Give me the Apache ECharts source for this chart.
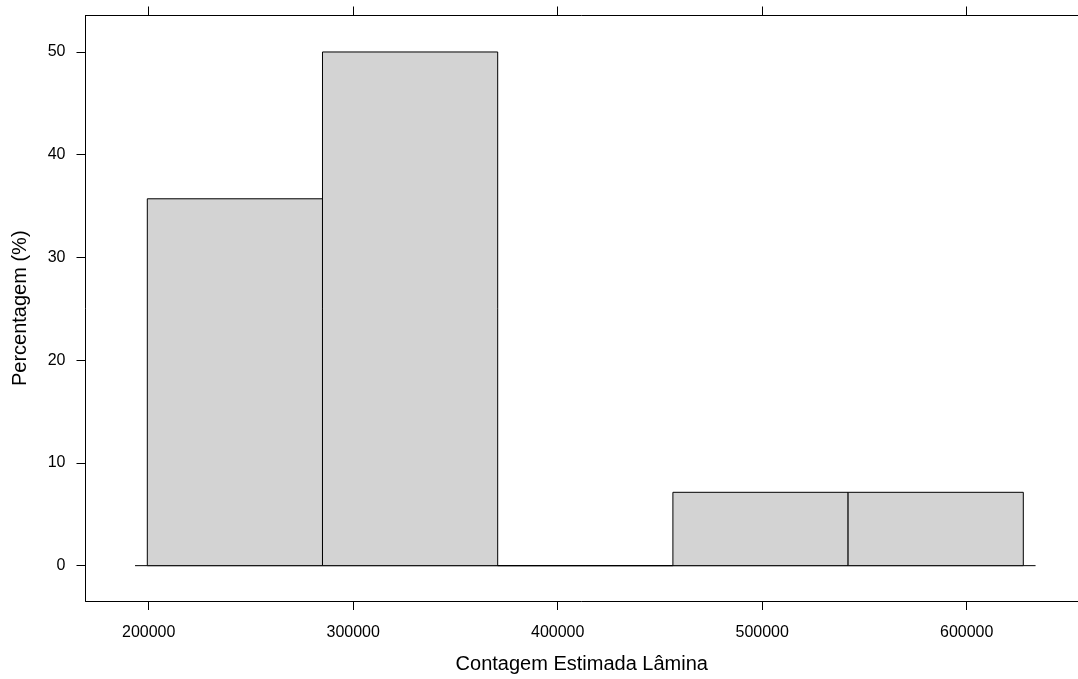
<!DOCTYPE html>
<html>
<head>
<meta charset="utf-8">
<script src="https://cdn.jsdelivr.net/npm/echarts@6/dist/echarts.min.js"></script>
<style>html,body{margin:0;padding:0;background:#fff;}#c{width:1078px;height:679px;}</style>
</head>
<body>
<div id="c"></div>
<script>
// Histogram bin edges (Contagem Estimada Lâmina)
const binEdges = [199315, 284987, 370660, 456332, 542005, 627677];
// Percentage per bin
const percentages = [35.71, 50.0, 0.0, 7.14, 7.14];
// Tick values
const xTicks = [200000, 300000, 400000, 500000, 600000];
const yTicks = [0, 10, 20, 30, 40, 50];
const xTitle = 'Contagem Estimada Lâmina';
const yTitle = 'Percentagem (%)';

const span = binEdges[binEdges.length - 1] - binEdges[0];
const xMin = 169095, xMax = 654425;
const yMin = -3.44, yMax = 53.55;

const barData = percentages.map((p, i) => [binEdges[i], binEdges[i + 1], p]);
const baseExt = span * 0.014;
const baseline = [[binEdges[0] - baseExt, 0], [binEdges[binEdges.length - 1] + baseExt, 0]];

const font = 'Liberation Sans, Arial, sans-serif';
const chart = echarts.init(document.getElementById('c'));
chart.setOption({
  animation: false,
  backgroundColor: '#fff',
  grid: { left: 85.5, right: 0, top: 15.5, bottom: 78 },
  xAxis: [{
    type: 'value', min: xMin, max: xMax, position: 'bottom',
    splitLine: { show: false },
    axisLine: { show: true, onZero: false, lineStyle: { color: '#000', width: 1 } },
    axisTick: { show: true, length: 9, customValues: xTicks, lineStyle: { color: '#000' } },
    axisLabel: { customValues: xTicks, margin: 24, color: '#000', fontSize: 16, fontFamily: font, formatter: v => String(v) },
    name: xTitle, nameLocation: 'middle', nameGap: 53,
    nameTextStyle: { color: '#000', fontSize: 20, fontFamily: font }
  }, {
    type: 'value', min: xMin, max: xMax, position: 'top',
    splitLine: { show: false },
    axisLine: { show: true, onZero: false, lineStyle: { color: '#000', width: 1 } },
    axisTick: { show: true, length: 9, customValues: xTicks, lineStyle: { color: '#000' } },
    axisLabel: { show: false }
  }],
  yAxis: {
    type: 'value', min: yMin, max: yMax,
    splitLine: { show: false },
    axisLine: { show: true, onZero: false, lineStyle: { color: '#000', width: 1 } },
    axisTick: { show: true, length: 9, customValues: yTicks, lineStyle: { color: '#000' } },
    axisLabel: { customValues: yTicks, margin: 20, color: '#000', fontSize: 16, fontFamily: font, padding: [4, 0, 0, 0] },
    name: yTitle, nameLocation: 'middle', nameGap: 55,
    nameTextStyle: { color: '#000', fontSize: 20, fontFamily: font }
  },
  series: [{
    type: 'custom',
    data: barData,
    renderItem: function (params, api) {
      const p0 = api.coord([api.value(0), api.value(2)]);
      const p1 = api.coord([api.value(1), 0]);
      return {
        type: 'rect',
        shape: { x: p0[0], y: p0[1], width: p1[0] - p0[0], height: p1[1] - p0[1] },
        style: { fill: '#D3D3D3', stroke: '#000', lineWidth: 1 }
      };
    },
    encode: { x: [0, 1], y: 2 },
    silent: true
  }, {
    type: 'line',
    data: baseline,
    symbol: 'none',
    lineStyle: { color: '#000', width: 1 },
    silent: true,
    z: 1
  }]
});
</script>
</body>
</html>
